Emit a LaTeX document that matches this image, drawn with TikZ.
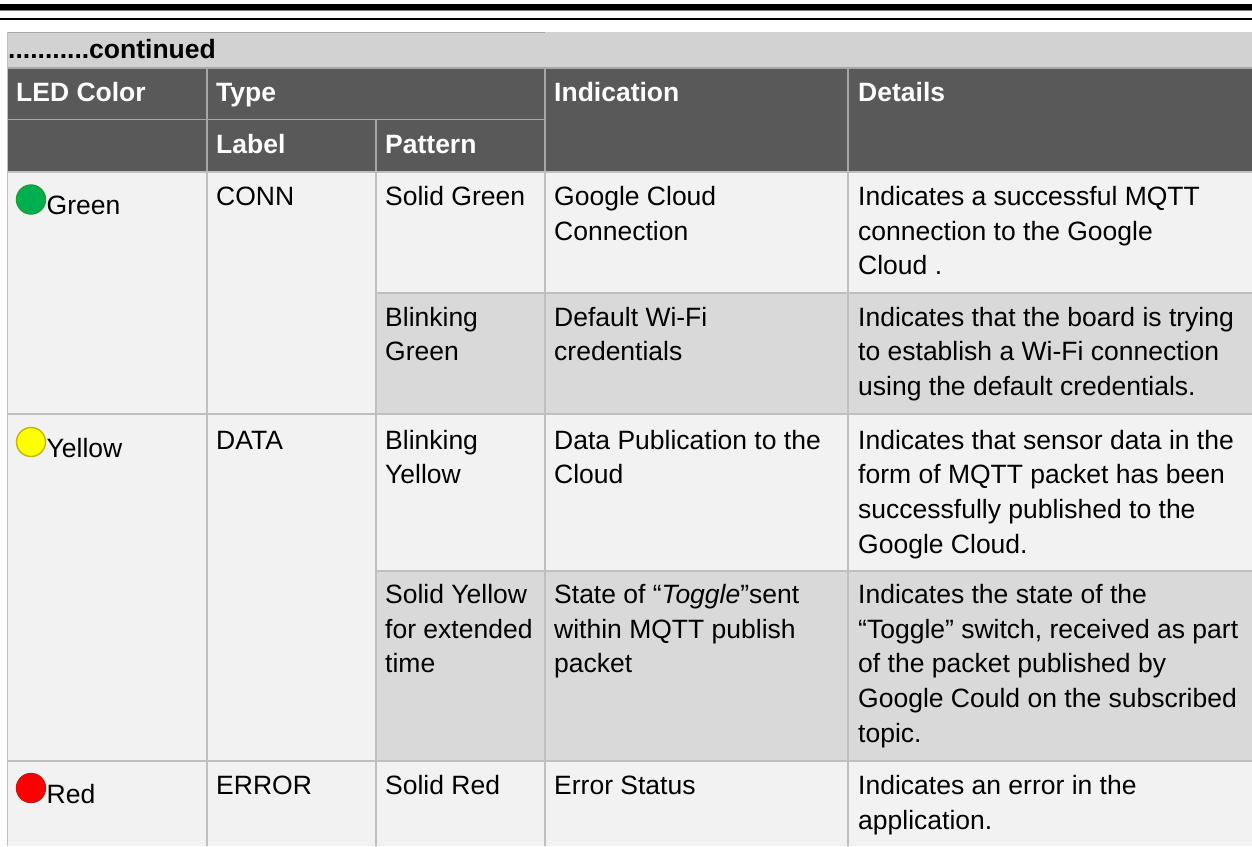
\documentclass[tikz,border=0pt]{standalone}
\usepackage{fontspec}
\setmainfont{Liberation Sans}
\definecolor{titlebar}{HTML}{D2D2D2}
\definecolor{headbg}{HTML}{595959}
\definecolor{bodybg}{HTML}{F2F2F2}
\definecolor{altbg}{HTML}{D9D9D9}
\definecolor{gridc}{HTML}{BFBFBF}
\definecolor{headgrid}{HTML}{A6A6A6}
\definecolor{ledgreen}{HTML}{00B050}
\definecolor{ledgreenb}{HTML}{1E9E2E}
\definecolor{ledyellow}{HTML}{FFFF00}
\definecolor{ledyellowb}{HTML}{C8B400}
\definecolor{ledred}{HTML}{FF0000}
\definecolor{ledredb}{HTML}{C81414}
\newcommand{\mlines}[1]{\begin{tabular}[t]{@{}l@{}}#1\end{tabular}}
\tikzset{
  x=1pt,y=-1pt,
  hd/.style={anchor=base west,inner sep=0pt,text=white,font=\fontsize{26.5}{34.5}\selectfont\bfseries},
  tx/.style={anchor=base west,inner sep=0pt,text=black,font=\fontsize{26.5}{34.7}\selectfont},
  gridline/.style={draw=gridc,line width=1.6pt},
  headline/.style={draw=headgrid,line width=1.4pt},
  led/.style={circle,inner sep=0pt,minimum size=29pt,line width=1.4pt}
}
\begin{document}
\begin{tikzpicture}
\useasboundingbox (0,0) rectangle (1252,846);
\fill[white] (0,0) rectangle (1252,846);
% top rules
\fill[black] (0,4) rectangle (1252,10);
\fill[gray] (0,10) rectangle (1252,11);
\fill[black] (0,17.5) rectangle (1252,20);
% title bar
\fill[titlebar] (7.6,32) rectangle (1252,68);
\draw[draw=gray!70,line width=1pt] (7.6,32.3) -- (545,32.3);
% header
\fill[headbg] (7.6,68) rectangle (1252,172);
% body
\fill[bodybg] (7.6,172) rectangle (1252,846);
\fill[altbg] (376,293) rectangle (1252,414);
\fill[altbg] (376,570.7) rectangle (1252,760.7);
% header grid
\draw[headline] (7.6,68) -- (1252,68);
\draw[headline] (7.6,119.5) -- (545,119.5);
\draw[headline] (207,68) -- (207,172);
\draw[headline] (376,119.5) -- (376,172);
\draw[headline] (545,68) -- (545,172);
\draw[headline] (848,68) -- (848,172);
% body grid
\draw[gridline] (7.6,172) -- (1252,172);
\draw[gridline] (376,293) -- (1252,293);
\draw[gridline] (7.6,414) -- (1252,414);
\draw[gridline] (376,570.7) -- (1252,570.7);
\draw[gridline] (7.6,760.7) -- (1252,760.7);
\draw[gridline] (7.6,32) -- (7.6,846);
\draw[gridline] (207,172) -- (207,846);
\draw[gridline] (376,172) -- (376,846);
\draw[gridline] (545,172) -- (545,846);
\draw[gridline] (848,172) -- (848,846);
% texts
\node[tx,font=\fontsize{26.5}{34}\selectfont\bfseries] (cont) at (8,58) {...........continued};
\node[hd] (h1) at (16,101) {LED Color};
\node[hd] (h2) at (216,101) {Type};
\node[hd] (h3) at (554,101) {Indication};
\node[hd] (h4) at (858,101) {Details};
\node[hd] (h5) at (216,153.5) {Label};
\node[hd] (h6) at (385,153.5) {Pattern};
% leds
\node[led,fill=ledgreen,draw=ledgreenb] (l1) at (31,199.5) {};
\node[tx] (c1) at (46.5,214) {Green};
\node[led,fill=ledyellow,draw=ledyellowb] (l2) at (31,442) {};
\node[tx] (c2) at (46.5,457) {Yellow};
\node[led,fill=ledred,draw=ledredb] (l3) at (31,788) {};
\node[tx] (c3) at (46.5,803) {Red};
% rows
\node[tx] (a1) at (216,205.5) {CONN};
\node[tx] (a2) at (216,449) {DATA};
\node[tx] (a3) at (216,794.5) {ERROR};
\node[tx] (b1) at (385,205.5) {Solid Green};
\node[tx] (b2) at (385,326) {\mlines{Blinking\\Green}};
\node[tx] (b3) at (385,449) {\mlines{Blinking\\Yellow}};
\node[tx] (b4) at (385,603.5) {\mlines{Solid Yellow\\for extended\\time}};
\node[tx] (b5) at (385,794.5) {Solid Red};
\node[tx] (d1) at (554,205.5) {\mlines{Google Cloud\\Connection}};
\node[tx] (d2) at (554,326) {\mlines{Default Wi-Fi\\credentials}};
\node[tx] (d3) at (554,449) {\mlines{Data Publication to the\\Cloud}};
\node[tx] (d4) at (554,603.5) {\mlines{State of “\textit{Toggle}”sent\\within MQTT publish\\packet}};
\node[tx] (d5) at (554,794.5) {Error Status};
\node[tx] (e1) at (858,205.5) {\mlines{Indicates a successful MQTT\\connection to the Google\\Cloud .}};
\node[tx] (e2) at (858,326) {\mlines{Indicates that the board is trying\\to establish a Wi-Fi connection\\using the default credentials.}};
\node[tx] (e3) at (858,449) {\mlines{Indicates that sensor data in the\\form of MQTT packet has been\\successfully published to the\\Google Cloud.}};
\node[tx] (e4) at (858,603.5) {\mlines{Indicates the state of the\\“Toggle” switch, received as part\\of the packet published by\\Google Could on the subscribed\\topic.}};
\node[tx] (e5) at (858,794.5) {\mlines{Indicates an error in the\\application.}};
\end{tikzpicture}
\end{document}
